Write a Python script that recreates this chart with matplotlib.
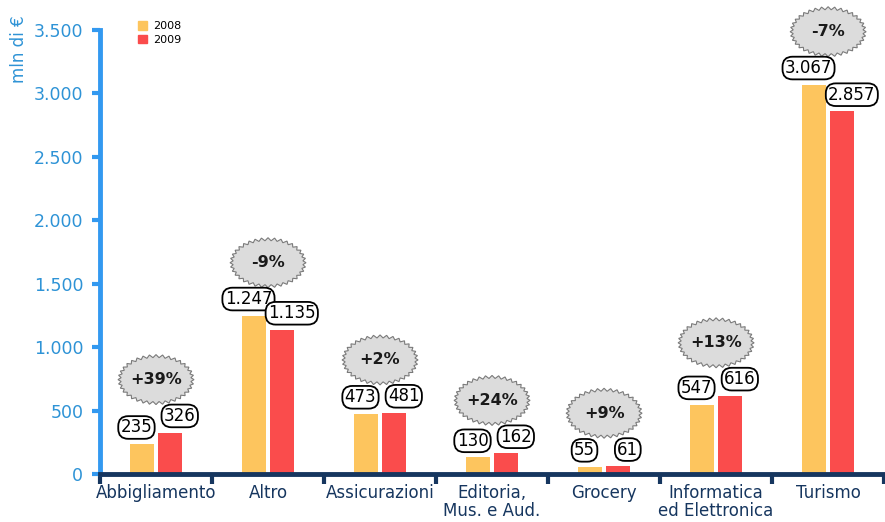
import numpy as np
import matplotlib
matplotlib.use("Agg")
import matplotlib.pyplot as plt
from matplotlib.patches import Polygon, Patch
from matplotlib.transforms import ScaledTranslation

# dati (mln di €)
categorie = ["Abbigliamento", "Altro", "Assicurazioni", "Editoria,\nMus. e Aud.",
             "Grocery", "Informatica\ned Elettronica", "Turismo"]
valori_2008 = [235, 1247, 473, 130, 55, 547, 3067]
valori_2009 = [326, 1135, 481, 162, 61, 616, 2857]
variazioni = ["+39%", "-9%", "+2%", "+24%", "+9%", "+13%", "-7%"]
y_ticks = [0, 500, 1000, 1500, 2000, 2500, 3000, 3500]

GIALLO = "#fdc55e"
ROSSO = "#fa4c4c"
BLU = "#3399f0"
BLU_TESTO = "#2e93d6"
NAVY = "#16365f"


def fmt_it(v):
    return f"{v:,.0f}".replace(",", ".")


def zigzag_ellipse(rx, ry, teeth=36, amp=0.03):
    # ellisse con bordo seghettato
    t = np.linspace(0, 2 * np.pi, teeth * 2, endpoint=False)
    k = np.where(np.arange(len(t)) % 2 == 0, 0.0, 1.0)
    return np.column_stack([(rx - amp * k) * np.cos(t), (ry - amp * k) * np.sin(t)])


fig = plt.figure(figsize=(8.85, 5.22), dpi=100)
ax = fig.add_axes([0.113, 0.092, 0.886, 0.851])

x = np.arange(len(categorie))
w = 0.22
ax.bar(x - 0.125, valori_2008, w, color=GIALLO, label="2008", zorder=2)
ax.bar(x + 0.125, valori_2009, w, color=ROSSO, label="2009", zorder=2)

box = dict(boxstyle="round,pad=0.14,rounding_size=0.6", fc="white", ec="black", lw=1.3)
for i in range(len(x)):
    ax.annotate(fmt_it(valori_2008[i]), (x[i] - 0.125, valori_2008[i]),
                xytext=(-4, 12), textcoords="offset points", ha="center", va="center",
                fontsize=12, bbox=box, zorder=4, annotation_clip=False)
    ax.annotate(fmt_it(valori_2009[i]), (x[i] + 0.125, valori_2009[i]),
                xytext=(7, 12), textcoords="offset points", ha="center", va="center",
                fontsize=12, bbox=box, zorder=4, annotation_clip=False)

    # bollo con la variazione percentuale
    top = max(valori_2008[i], valori_2009[i])
    verts = zigzag_ellipse(0.38, 0.25) + np.array([0, 0.53])
    tr = fig.dpi_scale_trans + ScaledTranslation(x[i], top, ax.transData)
    ax.add_patch(Polygon(verts, closed=True, transform=tr, fc="#dcdcdc", ec="#7a7a7a",
                         lw=0.8, clip_on=False, zorder=3))
    ax.text(0, 0.53, variazioni[i], transform=tr, ha="center", va="center",
            fontsize=11.5, fontweight="bold", color="#1a1a1a", zorder=4)

ax.set_xlim(-0.5, len(x) - 0.5)
ax.set_ylim(0, 3500)

for s in ["top", "right"]:
    ax.spines[s].set_visible(False)
ax.spines["left"].set_color(BLU)
ax.spines["left"].set_linewidth(3.5)
ax.spines["bottom"].set_color(NAVY)
ax.spines["bottom"].set_linewidth(3.5)
ax.spines["bottom"].set_zorder(5)

ax.set_yticks(y_ticks)
ax.set_yticklabels([fmt_it(v) for v in y_ticks])
ax.tick_params(axis="y", colors=BLU, length=6, width=3, labelcolor=BLU_TESTO,
               labelsize=12.5, pad=6)

ax.set_xticks(x)
ax.set_xticklabels(categorie, fontsize=12, color=NAVY, linespacing=1.0)
ax.set_xticks(np.arange(-0.5, len(x), 1), minor=True)
ax.tick_params(axis="x", which="major", length=0, pad=7)
ax.tick_params(axis="x", which="minor", length=7, width=3, color=NAVY)

fig.text(0.022, 0.97, "mln di €", rotation=90, ha="center", va="top",
         fontsize=12, color=BLU_TESTO)

ax.legend(handles=[Patch(color=GIALLO, label="2008"), Patch(color=ROSSO, label="2009")],
          loc="upper left", bbox_to_anchor=(0.15, 0.97), bbox_transform=fig.transFigure,
          frameon=False, fontsize=8, handlelength=0.8, handleheight=0.8,
          handletextpad=0.5, labelspacing=0.3, borderpad=0)

fig.savefig("out.png", dpi=100)
